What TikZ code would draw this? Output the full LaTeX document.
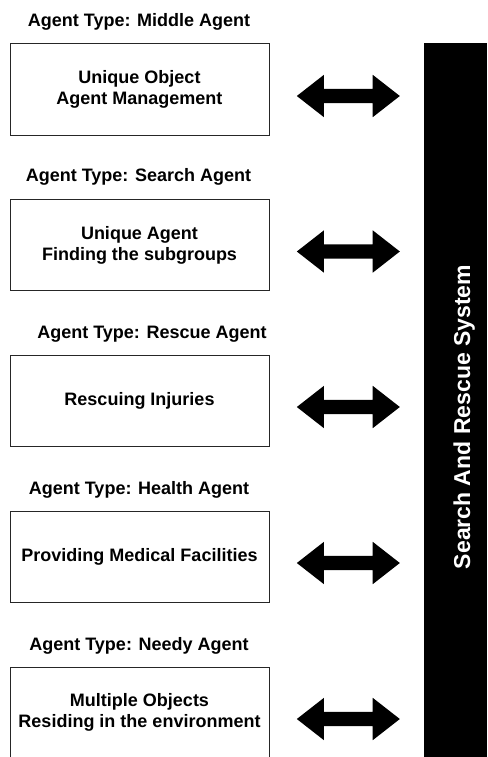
\documentclass[tikz,border=0pt]{standalone}
\usepackage{fontspec}
\setmainfont{Liberation Sans}
\usetikzlibrary{positioning,shapes.arrows}

\tikzset{
  agentbox/.style={draw=black!85, line width=1pt, minimum width=259pt, minimum height=91pt,
    align=center, font=\bfseries\fontsize{18}{21}\selectfont},
  agenttype/.style={anchor=base, font=\bfseries\fontsize{18}{21}\selectfont},
  dblarrow/.style={double arrow, fill=black, inner sep=0pt, inner ysep=7pt,
    minimum width=42pt, minimum height=103pt, double arrow head extend=14pt,
    double arrow tip angle=76},
}

\begin{document}
\begin{tikzpicture}[x=1pt, y=-1pt]
    \useasboundingbox (0,0) rectangle (487,757);

    % the system bar
    \node[fill=black, minimum width=63pt, minimum height=714pt, inner sep=0pt,
      anchor=north west] (sys) at (424,43) {};
    \node[rotate=90, anchor=base, text=white, font=\bfseries\fontsize{23}{27}\selectfont]
      (systext) at (470,417) {Search And Rescue System};

    % the agent boxes
    \node[agentbox] (mid) at (139.5,89.5) {Unique Object\\Agent Management};
    \node[agentbox] (search) at (139.5,245) {Unique Agent\\Finding the subgroups};
    \node[agentbox] (rescue) at (139.5,400.5) {Rescuing Injuries};
    \node[agentbox] (health) at (139.5,556.5) {Providing Medical Facilities};
    \node[agentbox] (needy) at (139.5,712.5) {Multiple Objects\\Residing in the environment};

    % the agent types above the boxes
    \node[agenttype] (midtype) at (139,26.5) {Agent Type: Middle Agent};
    \node[agenttype] (searchtype) at (138.5,181) {Agent Type: Search Agent};
    \node[agenttype] (rescuetype) at (152,338) {Agent Type: Rescue Agent};
    \node[agenttype] (healthtype) at (139,494) {Agent Type: Health Agent};
    \node[agenttype] (needytype) at (139,650) {Agent Type: Needy Agent};

    % the arrows between the boxes and the system
    \node[dblarrow, right=27pt of mid, yshift=-6.5pt] (midarr) {};
    \node[dblarrow, right=27pt of search, yshift=-6.5pt] (searcharr) {};
    \node[dblarrow, right=27pt of rescue, yshift=-6.5pt] (rescuearr) {};
    \node[dblarrow, right=27pt of health, yshift=-6.5pt] (healtharr) {};
    \node[dblarrow, right=27pt of needy, yshift=-6.5pt] (needyarr) {};

\end{tikzpicture}
\end{document}
